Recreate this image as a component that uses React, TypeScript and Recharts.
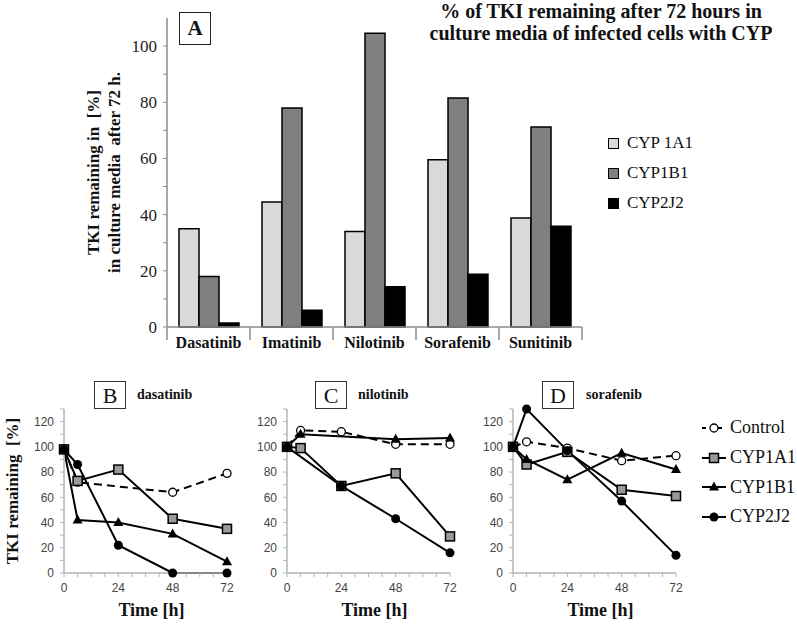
import type { ReactElement } from "react";
import { Bar, BarChart, Line, LineChart, XAxis, YAxis } from "recharts";

// ---- panel A: % remaining after 72 h, per drug and CYP ----
const drugs = ["Dasatinib", "Imatinib", "Nilotinib", "Sorafenib", "Sunitinib"];
const cyp1a1Remaining = [35, 44.5, 34, 59.5, 38.8];
const cyp1b1Remaining = [18, 78, 104.6, 81.5, 71.2];
const cyp2j2Remaining = [1.4, 6, 14.3, 18.8, 35.9];
const barTicks = [0, 10, 20, 30, 40, 50, 60, 70, 80, 90, 100];

// ---- panels B-D: time course ----
const hours = [0, 6, 24, 48, 72];
const hourTicks = [0, 6, 12, 18, 24, 30, 36, 42, 48, 54, 60, 66, 72];
const remainingTicks = [0, 10, 20, 30, 40, 50, 60, 70, 80, 90, 100, 110, 120, 130];

const dasatinibControl = [98, 72, null, 64, 79];
const dasatinibCyp1a1 = [98, 73, 82, 43, 35];
const dasatinibCyp1b1 = [98, 42, 40, 31, 9];
const dasatinibCyp2j2 = [98, 86, 22, 0, 0];

const nilotinibControl = [100, 113, 112, 102, 102];
const nilotinibCyp1a1 = [100, 99, 69, 79, 29];
const nilotinibCyp1b1 = [100, 110, null, 106, 107];
const nilotinibCyp2j2 = [100, null, 69, 43, 16];

const sorafenibControl = [100, 104, 99, 89, 93];
const sorafenibCyp1a1 = [100, 86, 96, 66, 61];
const sorafenibCyp1b1 = [100, 90, 74, 95, 82];
const sorafenibCyp2j2 = [100, 130, 97, 57, 14];

const SERIF = '"Liberation Serif", "Times New Roman", serif';
const SANS = '"Liberation Sans", Arial, sans-serif';
const AXIS_GREY = "#8c8c8c";
const LIGHT_AXIS = "#b4b4b4";

const barData = drugs.map((drug, i) => ({
  drug,
  cyp1a1: cyp1a1Remaining[i],
  cyp1b1: cyp1b1Remaining[i],
  cyp2j2: cyp2j2Remaining[i],
}));

const barSeries = [
  { key: "cyp1a1", name: "CYP 1A1", color: "#d9d9d9" },
  { key: "cyp1b1", name: "CYP1B1", color: "#808080" },
  { key: "cyp2j2", name: "CYP2J2", color: "#000000" },
];

const BAR_W = 797;
const BAR_H = 380;
const BAR_MARGIN = { top: 18, right: 215, bottom: 13, left: 117 };
const BAR_YAXIS_W = 50;
const BAND = (BAR_W - BAR_MARGIN.left - BAR_MARGIN.right - BAR_YAXIS_W) / drugs.length;

function buildRows(control, cyp1a1, cyp1b1, cyp2j2) {
  return hours.map((t, i) => ({
    t,
    control: control[i],
    cyp1a1: cyp1a1[i],
    cyp1b1: cyp1b1[i],
    cyp2j2: cyp2j2[i],
  }));
}

function DrugTick(props: any) {
  const { x, y, payload, index } = props;
  const left = x - BAND / 2;
  return (
    <g>
      <line x1={left} x2={left} y1={y} y2={y + 13} stroke={AXIS_GREY} strokeWidth={1.5} />
      {index === drugs.length - 1 && (
        <line x1={x + BAND / 2} x2={x + BAND / 2} y1={y} y2={y + 13} stroke={AXIS_GREY} strokeWidth={1.5} />
      )}
      <text x={x} y={y + 21} textAnchor="middle" fontFamily={SERIF} fontWeight="bold" fontSize={16} fill="#111">
        {payload.value}
      </text>
    </g>
  );
}

function barAxisTitle({ viewBox }: any) {
  const cy = viewBox.y + viewBox.height / 2;
  const x1 = viewBox.x - 24;
  const x2 = viewBox.x - 3;
  return (
    <g fontFamily={SERIF} fontWeight="bold" fontSize={17} fill="#111">
      <text x={x1} y={cy} textAnchor="middle" dominantBaseline="central" transform={`rotate(-90, ${x1}, ${cy})`}>
        {"TKI remaining in \u00a0[%]"}
      </text>
      <text x={x2} y={cy} textAnchor="middle" dominantBaseline="central" transform={`rotate(-90, ${x2}, ${cy})`}>
        {"in culture media \u00a0after 72 h."}
      </text>
    </g>
  );
}

function squareDot(props: any) {
  const { cx, cy, index } = props;
  if (cx == null || cy == null || Number.isNaN(cy)) return <g key={index} />;
  return <rect key={index} x={cx - 4.5} y={cy - 4.5} width={9} height={9} fill="#9a9a9a" stroke="#000" strokeWidth={1.5} />;
}

function triangleDot(props: any) {
  const { cx, cy, index } = props;
  if (cx == null || cy == null || Number.isNaN(cy)) return <g key={index} />;
  return <path key={index} d={`M${cx},${cy - 5.5} L${cx + 5},${cy + 3.5} L${cx - 5},${cy + 3.5} Z`} fill="#000" />;
}

function filledDot(props: any) {
  const { cx, cy, index } = props;
  if (cx == null || cy == null || Number.isNaN(cy)) return <g key={index} />;
  return <circle key={index} cx={cx} cy={cy} r={4.5} fill="#000" />;
}

function openDot(props: any) {
  const { cx, cy, index } = props;
  if (cx == null || cy == null || Number.isNaN(cy)) return <g key={index} />;
  return <circle key={index} cx={cx} cy={cy} r={4} fill="#fff" stroke="#000" strokeWidth={1.3} />;
}

function timeLabel({ viewBox }: any) {
  return (
    <text x={viewBox.x + viewBox.width / 2 + 6} y={viewBox.y + 43} textAnchor="middle" fontFamily={SERIF} fontWeight="bold" fontSize={18} fill="#111">
      Time [h]
    </text>
  );
}

function remainingLabel({ viewBox }: any) {
  const x = viewBox.x - 18;
  const cy = viewBox.y + viewBox.height / 2;
  return (
    <text x={x} y={cy} textAnchor="middle" dominantBaseline="central" transform={`rotate(-90, ${x}, ${cy})`} fontFamily={SERIF} fontWeight="bold" fontSize={17} fill="#111">
      {"TKI remaining \u00a0[%]"}
    </text>
  );
}

const lineSeries: { key: string; name: string; dot: (p: any) => ReactElement; dashed?: boolean }[] = [
  { key: "control", name: "Control", dot: openDot, dashed: true },
  { key: "cyp1a1", name: "CYP1A1", dot: squareDot },
  { key: "cyp1b1", name: "CYP1B1", dot: triangleDot },
  { key: "cyp2j2", name: "CYP2J2", dot: filledDot },
];

function TimePanel({ left, letter, drug, rows, showYLabel }: any) {
  return (
    <div style={{ position: "absolute", left, top: 380 }}>
      <LineChart width={237} height={245} data={rows} margin={{ top: 29, right: 10, bottom: 0, left: 30 }}>
        <XAxis
          type="number"
          dataKey="t"
          domain={[0, 72]}
          ticks={hourTicks}
          interval={0}
          height={52}
          tickSize={4}
          tickMargin={6}
          tickFormatter={(h) => (h % 24 === 0 ? String(h) : "")}
          axisLine={{ stroke: LIGHT_AXIS, strokeWidth: 1.5 }}
          tickLine={{ stroke: LIGHT_AXIS }}
          tick={{ fill: "#444", fontSize: 12, fontFamily: SANS }}
          label={timeLabel}
        />
        <YAxis
          type="number"
          domain={[0, 130]}
          ticks={remainingTicks}
          interval={0}
          width={34}
          tickSize={4}
          tickMargin={6}
          tickFormatter={(v) => (v % 20 === 0 && v <= 120 ? String(v) : "")}
          axisLine={{ stroke: LIGHT_AXIS, strokeWidth: 1.5 }}
          tickLine={{ stroke: LIGHT_AXIS }}
          tick={{ fill: "#444", fontSize: 12, fontFamily: SANS }}
          label={showYLabel ? remainingLabel : undefined}
        />
        {lineSeries.map((s) => (
          <Line
            key={s.key}
            dataKey={s.key}
            name={s.name}
            type="linear"
            stroke="#000"
            strokeWidth={2}
            strokeDasharray={s.dashed ? "8 5" : undefined}
            dot={s.dot}
            activeDot={false}
            connectNulls
            isAnimationActive={false}
          />
        ))}
      </LineChart>
      <div
        style={{
          position: "absolute",
          left: letter.boxLeft - left,
          top: 1,
          width: 32,
          height: 28,
          boxSizing: "border-box",
          border: "1px solid #333",
          fontFamily: SERIF,
          fontSize: 22,
          lineHeight: "27px",
          textAlign: "center",
          color: "#111",
        }}
      >
        {letter.text}
      </div>
      <div
        style={{
          position: "absolute",
          left: letter.nameLeft - left,
          top: 6,
          fontFamily: SERIF,
          fontWeight: "bold",
          fontSize: 14,
          lineHeight: "18px",
          color: "#111",
          whiteSpace: "nowrap",
        }}
      >
        {drug}
      </div>
    </div>
  );
}

function LegendGlyph({ series }: any) {
  return (
    <svg width={26} height={14} style={{ marginRight: 3 }}>
      <line x1={1} x2={25} y1={7} y2={7} stroke="#000" strokeWidth={2} strokeDasharray={series.dashed ? "4 4" : undefined} />
      {series.dot({ cx: 13, cy: 7, index: 0 })}
    </svg>
  );
}

export default function App() {
  return (
    <div style={{ position: "absolute", left: 0, top: 0, width: 797, height: 625, background: "#fff" }}>
      <div style={{ position: "absolute", left: 0, top: 0 }}>
        <BarChart width={BAR_W} height={BAR_H} data={barData} margin={BAR_MARGIN} barCategoryGap={12} barGap={0}>
          <XAxis
            dataKey="drug"
            height={40}
            interval={0}
            tickSize={0}
            tickMargin={0}
            tickLine={false}
            axisLine={{ stroke: AXIS_GREY, strokeWidth: 1.5 }}
            tick={DrugTick}
          />
          <YAxis
            width={BAR_YAXIS_W}
            domain={[0, 110]}
            ticks={barTicks}
            interval={0}
            tickSize={4}
            tickMargin={6}
            tickFormatter={(v) => (v % 20 === 0 ? String(v) : "")}
            axisLine={{ stroke: AXIS_GREY, strokeWidth: 1.5 }}
            tickLine={{ stroke: AXIS_GREY }}
            tick={{ fill: "#222", fontSize: 17, fontFamily: SERIF }}
            label={barAxisTitle}
          />
          {barSeries.map((s) => (
            <Bar key={s.key} dataKey={s.key} name={s.name} fill={s.color} stroke="#000" strokeWidth={1.5} isAnimationActive={false} />
          ))}
        </BarChart>
      </div>

      <div
        style={{
          position: "absolute",
          left: 179,
          top: 12,
          width: 32,
          height: 33,
          boxSizing: "border-box",
          border: "1px solid #222",
          fontFamily: SERIF,
          fontWeight: "bold",
          fontSize: 21,
          lineHeight: "31px",
          textAlign: "center",
          color: "#111",
        }}
      >
        A
      </div>

      <div
        style={{
          position: "absolute",
          left: 401,
          top: 0,
          width: 400,
          textAlign: "center",
          fontFamily: SERIF,
          fontWeight: "bold",
          fontSize: 20,
          lineHeight: "22px",
          color: "#111",
        }}
      >
        % of TKI remaining after 72 hours in
        <br />
        culture media of infected cells with CYP
      </div>

      <div style={{ position: "absolute", left: 608, top: 128, fontFamily: SERIF, fontSize: 17, color: "#111" }}>
        {barSeries.map((s) => (
          <div key={s.key} style={{ display: "flex", alignItems: "center", height: 30 }}>
            <span
              style={{
                display: "inline-block",
                width: 11,
                height: 11,
                boxSizing: "border-box",
                border: "1.5px solid #000",
                background: s.color,
                marginRight: 8,
              }}
            />
            <span>{s.name}</span>
          </div>
        ))}
      </div>

      <TimePanel
        left={0}
        letter={{ text: "B", boxLeft: 94, nameLeft: 137 }}
        drug="dasatinib"
        rows={buildRows(dasatinibControl, dasatinibCyp1a1, dasatinibCyp1b1, dasatinibCyp2j2)}
        showYLabel
      />
      <TimePanel
        left={223}
        letter={{ text: "C", boxLeft: 315, nameLeft: 358 }}
        drug="nilotinib"
        rows={buildRows(nilotinibControl, nilotinibCyp1a1, nilotinibCyp1b1, nilotinibCyp2j2)}
      />
      <TimePanel
        left={449}
        letter={{ text: "D", boxLeft: 542, nameLeft: 586 }}
        drug="sorafenib"
        rows={buildRows(sorafenibControl, sorafenibCyp1a1, sorafenibCyp1b1, sorafenibCyp2j2)}
      />

      <div style={{ position: "absolute", left: 701, top: 413, fontFamily: SERIF, fontSize: 18, color: "#111" }}>
        {lineSeries.map((s) => (
          <div key={s.key} style={{ display: "flex", alignItems: "center", height: 29.7 }}>
            <LegendGlyph series={s} />
            <span>{s.name}</span>
          </div>
        ))}
      </div>
    </div>
  );
}
